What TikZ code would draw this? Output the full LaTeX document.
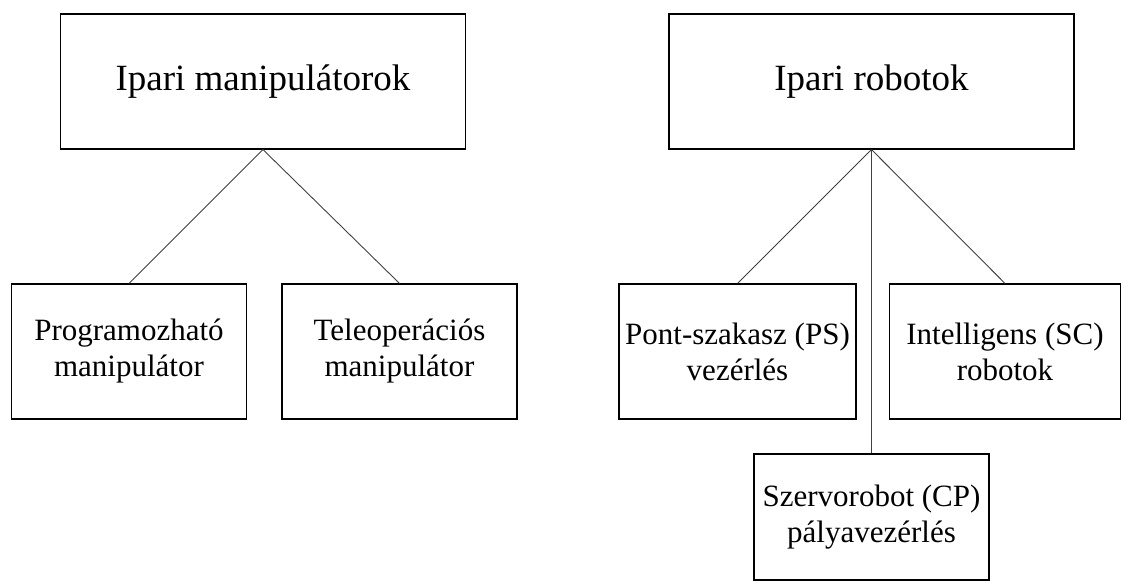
\documentclass[tikz,border=0pt]{standalone}
\usepackage{fontspec}
\setmainfont{Liberation Serif}
\usepackage{tikz}
\usetikzlibrary{shapes,arrows,positioning}

\begin{document}
\begin{tikzpicture}[x=1pt,y=-1pt]
\tikzstyle{every node} = [rectangle, inner sep=0pt, align=center]
\tikzstyle{head} = [draw, line width=1.2pt, minimum width=405pt, minimum height=135pt, font=\fontsize{37}{44}\selectfont]
\tikzstyle{leaf} = [draw, line width=1.2pt, minimum width=235pt, minimum height=135pt, font=\fontsize{31}{36}\selectfont]
\tikzstyle{link} = [draw, line width=0.9pt, black!75]
\useasboundingbox (0,0) rectangle (1122,582);
\node[head] (M0) at (263,81.5) {Ipari manipulátorok};
\node[head] (R0) at (871.5,81.5) {Ipari robotok};
\node[leaf] (M1) at (129,351.5) {Programozható\\manipulátor};
\node[leaf] (M2) at (399.5,351.5) {Teleoperációs\\manipulátor};
\node[leaf, minimum width=237pt] (R1) at (737.5,351.5) {Pont-szakasz (PS)\\vezérlés};
\node[leaf, minimum width=231pt] (R2) at (1005,351.5) {Intelligens (SC)\\robotok};
\node[leaf, minimum height=126pt] (R3) at (871.5,517) {Szervorobot (CP)\\pályavezérlés};
\path[link] (M0.south) edge (M1.north)
                 edge (M2.north)
         (R0.south) edge (R1.north)
                 edge (R2.north)
                 edge (R3.north);
\end{tikzpicture}
\end{document}
